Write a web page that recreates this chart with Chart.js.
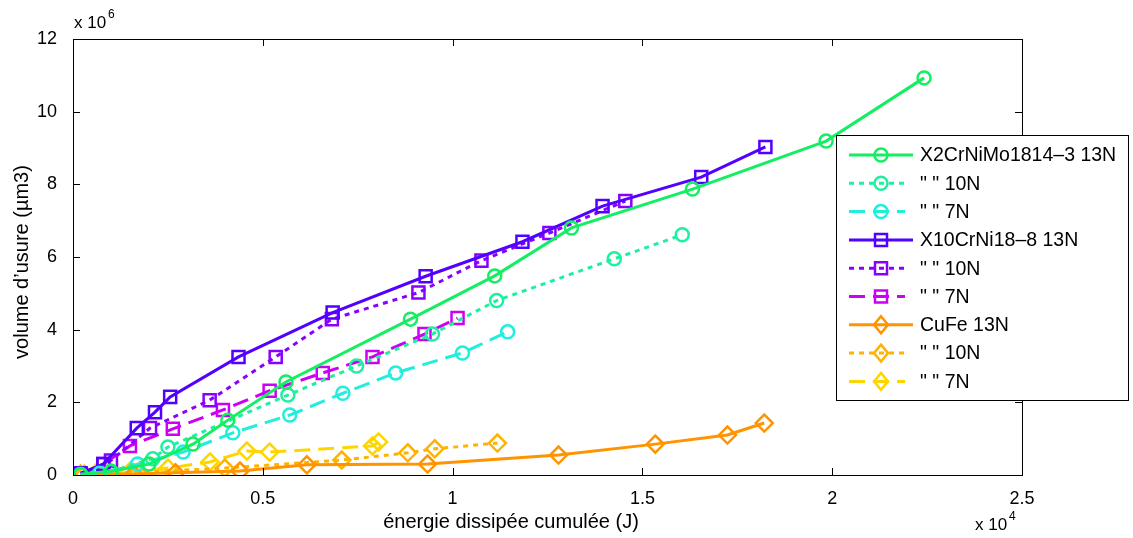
<!DOCTYPE html>
<html lang="fr">
<head>
  <meta charset="UTF-8">
  <title>Volume d'usure - énergie dissipée</title>
  <script src="https://cdn.jsdelivr.net/npm/chart.js"></script>
  <style>
    body { margin: 0; background: #fff; }
    .wrap { width: 1133px; height: 538px; }
  </style>
</head>
<body>
  <div class="wrap"><canvas id="usureChart" width="1133" height="538"></canvas></div>

  <script>
    // energie (x 1e4 J), volume (x 1e6 µm3)
    const x2cr13N = [[0.02,0.02],[0.1,0.1],[0.2,0.3],[0.316,0.85],[0.408,1.51],[0.561,2.56],[0.889,4.29],[1.111,5.48],[1.313,6.80],[1.632,7.87],[1.984,9.19],[2.242,10.93]];
    const x2cr10N = [[0.02,0.01],[0.1,0.1],[0.21,0.45],[0.25,0.77],[0.566,2.2],[0.747,3.0],[0.947,3.88],[1.116,4.80],[1.426,5.95],[1.605,6.61]];
    const x2cr7N  = [[0.02,0.01],[0.07,0.05],[0.17,0.3],[0.29,0.63],[0.421,1.16],[0.571,1.65],[0.711,2.25],[0.85,2.81],[1.026,3.36],[1.145,3.94]];
    const x10cr13N = [[0.02,0.05],[0.08,0.3],[0.168,1.29],[0.216,1.73],[0.256,2.15],[0.436,3.25],[0.684,4.47],[0.929,5.47],[1.184,6.42],[1.395,7.40],[1.655,8.20],[1.824,9.03]];
    const x10cr10N = [[0.02,0.02],[0.1,0.4],[0.203,1.29],[0.36,2.06],[0.534,3.25],[0.682,4.29],[0.91,5.02],[1.076,5.90],[1.255,6.66],[1.455,7.54]];
    const x10cr7N  = [[0.02,0.02],[0.08,0.3],[0.15,0.8],[0.263,1.27],[0.395,1.79],[0.518,2.32],[0.658,2.81],[0.789,3.25],[0.926,3.88],[1.013,4.32]];
    const cufe13N = [[0.02,0.01],[0.08,0.02],[0.16,0.03],[0.27,0.06],[0.44,0.11],[0.616,0.28],[0.934,0.30],[1.279,0.55],[1.534,0.85],[1.724,1.10],[1.821,1.43]];
    const cufe10N = [[0.03,0.02],[0.1,0.05],[0.17,0.07],[0.40,0.19],[0.708,0.41],[0.882,0.61],[0.953,0.72],[1.118,0.88]];
    const cufe7N  = [[0.02,0.03],[0.06,0.05],[0.1,0.07],[0.15,0.1],[0.25,0.19],[0.361,0.36],[0.458,0.66],[0.518,0.63],[0.789,0.80],[0.805,0.91]];

    const seriesNames = ['X2CrNiMo1814\u20133 13N', '" " 10N', '" " 7N',
                         'X10CrNi18\u20138 13N', '" " 10N', '" " 7N',
                         'CuFe 13N', '" " 10N', '" " 7N'];
    const seriesData = [x2cr13N, x2cr10N, x2cr7N, x10cr13N, x10cr10N, x10cr7N, cufe13N, cufe10N, cufe7N];
    const seriesColors = ['#14ee62', '#1ef0a0', '#22eedc', '#5200ff', '#8a00ff', '#cc00f5', '#ff9400', '#ffb300', '#ffd500'];
    const xTicks = [0, 0.5, 1, 1.5, 2, 2.5];
    const yTicks = [0, 2, 4, 6, 8, 10, 12];

    const FONT = "'Liberation Sans', Arial, sans-serif";
    const styles = ['circle', 'rect', 'rectRot'];
    const dashes = [[], [5, 5], [16, 8]];

    const datasets = seriesData.map((pts, i) => {
      const style = styles[Math.floor(i / 3)];
      return {
        label: seriesNames[i],
        data: pts.map(p => ({ x: p[0], y: p[1] })),
        borderColor: seriesColors[i],
        backgroundColor: 'transparent',
        borderWidth: 3,
        borderDash: dashes[i % 3],
        pointStyle: style,
        pointRadius: style === 'circle' ? 6.5 : 8.5,
        pointBorderWidth: 2.5,
        pointBackgroundColor: 'transparent',
        pointBorderColor: seriesColors[i],
        showLine: true,
        tension: 0
      };
    });

    function drawMarker(ctx, style, x, y, color) {
      ctx.save();
      ctx.strokeStyle = color;
      ctx.lineWidth = 2.5;
      ctx.setLineDash([]);
      ctx.beginPath();
      if (style === 'circle') ctx.arc(x, y, 6.5, 0, Math.PI * 2);
      else if (style === 'rect') ctx.rect(x - 6, y - 6, 12, 12);
      else { ctx.moveTo(x, y - 8.5); ctx.lineTo(x + 7, y); ctx.lineTo(x, y + 8.5); ctx.lineTo(x - 7, y); ctx.closePath(); }
      ctx.stroke();
      ctx.restore();
    }

    const matlabFrame = {
      id: 'matlabFrame',
      afterDatasetsDraw(chart) {
        const { ctx, chartArea: a, scales } = chart;
        ctx.save();
        ctx.strokeStyle = '#000';
        ctx.lineWidth = 1;
        ctx.strokeRect(a.left + 0.5, a.top + 0.5, a.right - a.left, a.bottom - a.top);
        ctx.beginPath();
        xTicks.forEach(v => {
          const px = Math.round(scales.x.getPixelForValue(v)) + 0.5;
          ctx.moveTo(px, a.bottom); ctx.lineTo(px, a.bottom - 7);
          ctx.moveTo(px, a.top); ctx.lineTo(px, a.top + 7);
        });
        yTicks.forEach(v => {
          const py = Math.round(scales.y.getPixelForValue(v)) + 0.5;
          ctx.moveTo(a.left, py); ctx.lineTo(a.left + 7, py);
          ctx.moveTo(a.right, py); ctx.lineTo(a.right - 7, py);
        });
        ctx.stroke();

        // titres des axes
        ctx.fillStyle = '#000';
        ctx.font = '20px ' + FONT;
        ctx.textAlign = 'center';
        ctx.textBaseline = 'middle';
        ctx.fillText('énergie dissipée cumulée (J)', 511, 522);
        ctx.save();
        ctx.translate(22, 262);
        ctx.rotate(-Math.PI / 2);
        ctx.fillText('volume d\u2019usure (\u00b5m3)', 0, 0);
        ctx.restore();

        // facteurs d'échelle
        ctx.textAlign = 'left';
        ctx.textBaseline = 'alphabetic';
        ctx.font = '17px ' + FONT;
        ctx.fillText('x 10', 74, 28);
        ctx.fillText('x 10', 975, 530);
        ctx.font = '12px ' + FONT;
        ctx.fillText('6', 108, 18);
        ctx.fillText('4', 1009, 520);

        // légende
        const lx = 836, ly = 135, lw = 292, lh = 265;
        ctx.fillStyle = '#fff';
        ctx.fillRect(lx, ly, lw, lh);
        ctx.strokeStyle = '#000';
        ctx.lineWidth = 1;
        ctx.strokeRect(lx + 0.5, ly + 0.5, lw, lh);
        chart.data.datasets.forEach((ds, i) => {
          const y = 155 + i * 28.3;
          const x1 = 849, x2 = (i % 3 === 0) ? 913 : 905;
          ctx.save();
          ctx.strokeStyle = ds.borderColor;
          ctx.lineWidth = 3;
          ctx.setLineDash(ds.borderDash);
          ctx.beginPath();
          ctx.moveTo(x1, y); ctx.lineTo(x2, y);
          ctx.stroke();
          ctx.restore();
          drawMarker(ctx, ds.pointStyle, 881, y, ds.borderColor);
          ctx.fillStyle = '#000';
          ctx.font = '19.5px ' + FONT;
          ctx.textBaseline = 'middle';
          ctx.fillText(ds.label, 920, y + 1);
        });
        ctx.restore();
      }
    };

    new Chart(document.getElementById('usureChart'), {
      type: 'scatter',
      data: { datasets },
      options: {
        responsive: false,
        animation: false,
        layout: { padding: { left: 0, right: 111, top: 39, bottom: 0 } },
        plugins: { legend: { display: false }, tooltip: { enabled: false } },
        scales: {
          x: {
            type: 'linear', min: 0, max: 2.5,
            afterBuildTicks: s => { s.ticks = xTicks.map(v => ({ value: v })); },
            afterFit: s => { s.height = 63; },
            grid: { display: false },
            border: { display: false },
            ticks: { color: '#000', font: { family: FONT, size: 18 }, padding: 5, callback: v => String(v) },
            title: { display: false }
          },
          y: {
            type: 'linear', min: 0, max: 12,
            afterBuildTicks: s => { s.ticks = yTicks.map(v => ({ value: v })); },
            afterFit: s => { s.width = 73; },
            grid: { display: false },
            border: { display: false },
            ticks: { color: '#000', font: { family: FONT, size: 18 }, padding: 8, callback: v => String(v) },
            title: { display: false }
          }
        }
      },
      plugins: [matlabFrame]
    });
  </script>
</body>
</html>
